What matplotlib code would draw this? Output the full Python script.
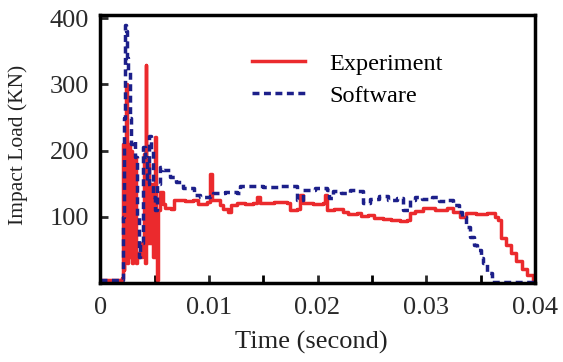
import matplotlib
matplotlib.use('Agg')
import matplotlib.pyplot as plt

# Experiment curve (time in s, load in kN)
exp_t = [0, 0.0019, 0.0020, 0.0021, 0.00215, 0.0022, 0.0023, 0.0024, 0.0025, 0.0026,
         0.0027, 0.0028, 0.0029, 0.0030, 0.0031, 0.0032, 0.0033, 0.0034, 0.0036, 0.0038,
         0.0040, 0.0041, 0.0042, 0.00425, 0.0044, 0.0045, 0.0047, 0.0049, 0.0050, 0.0051,
         0.0052, 0.0053, 0.0055, 0.0058, 0.0060, 0.0065, 0.0068, 0.0078, 0.0085, 0.0090,
         0.0098, 0.0101, 0.0103, 0.0110, 0.0113, 0.0118, 0.0120, 0.0126, 0.0133, 0.0141,
         0.0144, 0.0147, 0.0160, 0.0172, 0.0175, 0.0181, 0.0184, 0.0187, 0.0196, 0.0205,
         0.0207, 0.0209, 0.0215, 0.0223, 0.0228, 0.0236, 0.0240, 0.0246, 0.0252, 0.0260,
         0.0268, 0.0276, 0.0282, 0.0285, 0.0290, 0.0297, 0.0308, 0.0319, 0.0325, 0.0331,
         0.0337, 0.0346, 0.0356, 0.0363, 0.0366, 0.0369, 0.0373, 0.0378, 0.0383, 0.0388,
         0.0393, 0.0398, 0.0400]
exp_v = [5, 5, 8, 210, 20, 200, 60, 300, 30, 210,
         40, 200, 30, 185, 50, 190, 30, 45, 40, 60,
         195, 30, 330, 60, 180, 60, 150, 40, 220, 60,
         5, 110, 138, 120, 114, 112, 126, 124, 126, 120,
         122, 164, 126, 118, 112, 107, 118, 121, 119, 121,
         130, 121, 123, 121, 110, 112, 133, 121, 119, 121,
         133, 110, 112, 108, 104, 106, 101, 103, 99, 97,
         95, 93, 95, 106, 109, 113, 111, 113, 107, 100,
         106, 104, 106, 100, 95, 68, 58, 45, 33, 22,
         12, 2, 0]

# Software curve
sw_t = [0, 0.0019, 0.0021, 0.0022, 0.0023, 0.0024, 0.0025, 0.0026, 0.0027, 0.0028,
        0.0030, 0.0032, 0.0034, 0.0036, 0.0037, 0.0039, 0.0041, 0.0043, 0.0045, 0.0047,
        0.0049, 0.0050, 0.0052, 0.0055, 0.0058, 0.0064, 0.0070, 0.0076, 0.0086, 0.0092,
        0.0101, 0.0104, 0.0115, 0.0126, 0.0129, 0.0150, 0.0165, 0.0177, 0.0181, 0.0187,
        0.0198, 0.0209, 0.0211, 0.0214, 0.0222, 0.0230, 0.0236, 0.0242, 0.0248, 0.0257,
        0.0265, 0.0273, 0.0279, 0.0285, 0.0290, 0.0296, 0.0305, 0.0312, 0.0319, 0.0325,
        0.0330, 0.0333, 0.0337, 0.0340, 0.0344, 0.0347, 0.0350, 0.0352, 0.0356, 0.0361,
        0.0400]
sw_v = [5, 5, 100, 250, 390, 380, 340, 320, 250, 210,
        215, 190, 100, 40, 60, 205, 190, 150, 222, 200,
        130, 110, 150, 175, 171, 160, 153, 144, 133, 130,
        132, 136, 138, 136, 147, 145, 147, 147, 126, 141,
        143, 141, 129, 139, 136, 141, 139, 121, 127, 131,
        125, 129, 110, 126, 130, 127, 130, 124, 126, 118,
        108, 100, 85, 70, 58, 50, 38, 30, 15, 2,
        2]

plt.rcParams['font.family'] = ['Liberation Serif', 'DejaVu Serif']

fig = plt.figure(figsize=(5.63, 3.62), dpi=100)
ax = fig.add_axes([0.178, 0.218, 0.772, 0.741])

ax.plot(exp_t, exp_v, color='#eb2a2d', lw=2.5, drawstyle='steps-post', label='Experiment')
ax.plot(sw_t, sw_v, color='#1c1f8a', lw=2.5, ls=(0, (2.0, 1.3)), drawstyle='steps-post',
        label='Software')

ax.set_xlim(0, 0.04)
ax.set_ylim(0, 405)
ax.set_xticks([0, 0.01, 0.02, 0.03, 0.04])
ax.set_xticklabels(['0', '0.01', '0.02', '0.03', '0.04'])
ax.set_xticks([0.005, 0.015, 0.025, 0.035], minor=True)
ax.set_yticks([100, 200, 300, 400])

ax.tick_params(direction='in', length=6, width=2, labelsize=19, colors='#2a2a2a', pad=10)
ax.tick_params(axis='y', pad=8)
ax.tick_params(which='minor', direction='in', length=6, width=2)
for s in ax.spines.values():
    s.set_linewidth(2.5)

ax.set_xlabel('Time (second)', fontsize=19, color='#222222')
ax.set_ylabel('Impact Load (KN)', fontsize=15.5, color='#222222')
ax.xaxis.set_label_coords(0.485, -0.18)
ax.yaxis.set_label_coords(-0.165, 0.515)

ax.legend(loc='upper left', bbox_to_anchor=(0.3, 0.94), frameon=False, fontsize=17.5,
          handlelength=2.15, labelspacing=0.4, handletextpad=1.0)

fig.savefig('out.png', dpi=100)
